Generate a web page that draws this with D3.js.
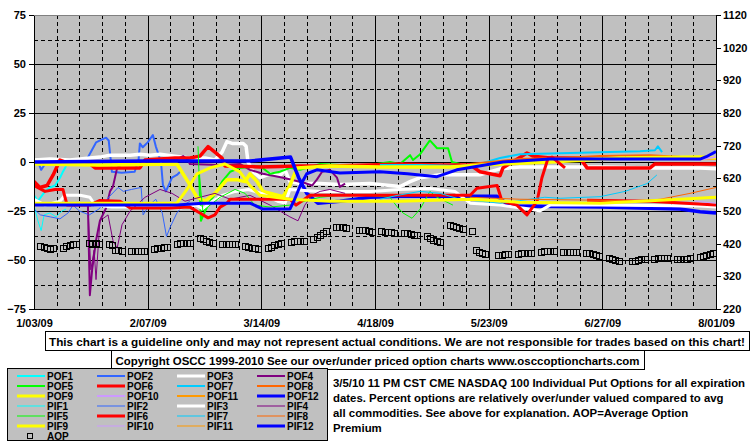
<!DOCTYPE html>
<html>
<head>
<meta charset="utf-8">
<script src="https://cdn.jsdelivr.net/npm/d3@7"></script>
<style>
  body { margin: 0; background: #fff; }
  text { font-family: Arial, "Liberation Sans", sans-serif; font-weight: bold; fill: #000; }
</style>
</head>
<body>
<svg id="chart" width="755" height="446"></svg>
<script>
// each series: [day offset from 1/03/09, percent over/under]; null = gap
const pof1 = [[0, -17], [1.2, -20], [3.4, -15], [4.9, -13], [6.5, -12], [8, -8], [8.9, -5], [9.9, -2]]
const pif1 = [[0, -22], [1.2, -30], [2.2, -35], [3.1, -27], [4.9, -26], [6.8, -28], [8.6, -25], [9.9, -24]]
const pof2 = [[0, 0], [1.5, -1], [2.2, -4], [3.4, -1], [6, 1], [12, 1], [16, 0.5], [19.1, 10], [21, 11.5], [22.2, 12.4],
  [23, 11], [23.7, 0], [24, -5], [27, -5.5], [31, -5], [32.2, 1], [32.6, 9.5], [33.5, 7.5], [35, 10], [36.6, 13.8],
  [37.5, 8], [39.1, 0], [39.7, -11.7], [40.6, -15], [42.5, -8], [44, -6.6], [45, -5]]
const pif2 = [[0, -24], [2, -27], [5, -28], [8, -29], [10.5, -26], [12, -22], [14, -25], [17, -27], [20, -24], [23, -18],
  [25.9, -13], [27.5, -15], [30, -14], [33, -13], [33.6, -27], [35.5, -22], [37.5, -19], [39.5, -26], [40.8, -38],
  [42, -33], [44, -26], [46, -22], [48, -20]]
const pof3 = [[0, 1], [4.9, 1.5], [11, 1], [20.3, 2.5], [23.4, 3.5], [29.6, 3.5], [32.6, 4], [35.7, 3.5], [38.8, 4],
  [43.4, 3], [48, 2], [52.7, 2], [55.7, 1], [57.9, 5], [59.4, 10.4], [61, 9.5], [64.4, 9.5], [65.3, 8], [65.9, 0],
  [67.5, -5], [69.6, -8], [72.7, -6], [75.7, -7], [77.3, -4], [78.8, -10], [81.9, -11], [88.1, -11], [94.2, -11.5],
  [103.5, -11], [109.6, -12], [112.7, -12.5], [115.8, -10], [118.9, -8], [125, -6.5], [137.3, -6.5], [143.5, -3.5],
  [149.6, -2.5], [174.3, -2.5], [189.7, -3], [205.1, -3], [210, -3.5]]
const pif3 = [[0, -19], [3.4, -22], [8, -20], [9.5, -17], [14.2, -17], [17.2, -18], [18.8, -22], [24, -23], [36, -23],
  [45, -23.5], [50, -22], [52, -24], [55, -20], [58, -17], [62, -15], [66, -14], [70, -16], [75, -20], [77.3, -21],
  [78.8, -14], [88, -15], [103.5, -15], [112.7, -14], [121.9, -13.5], [129.6, -15], [134.3, -21], [143.5, -22],
  [152.7, -24], [155.8, -25], [158.9, -22], [174.3, -22], [205.1, -22.5], [210, -23]]
const pof4 = [[16.6, -22], [17.2, -68], [17.9, -55], [19.1, -40], [20.3, -30], [22.2, -23.5], [23.4, -15], [24.3, -12.6],
  [25.6, -3], [28, 0], [35.7, 0.5], [43.4, 1], [45.9, 3], [47.4, 1], [48, -1], [57.3, -1.5], [63.4, -1], [66.5, -4],
  [70.5, -6], [76.7, -8], [83.4, -10.7], [85.6, -12], [87.1, -9], [88.7, -5], [91.1, -4], [93.3, -8], [94.2, -12.7], [95.8, -11]]
const pif4 = [[16.6, -22], [17.5, -55], [18.5, -45], [19.1, -60], [20.3, -30], [22.8, -27], [24.3, -40], [25.6, -44],
  [27.1, -32], [29.6, -25], [34.2, -18], [38.8, -14], [42.5, -16], [46.5, -20], [51.1, -18], [55.7, -16], [60.4, -19],
  [66.5, -17], [72.7, -22], [78.8, -28], [81.3, -30], [83.4, -22], [85.6, -17], [88.1, -15], [91.1, -14], [95.8, -16]]
const pof5 = [[50.8, -5], [51.4, -30], [52.7, -25], [54.2, -20], [56.3, -15], [57.9, -10], [60.4, -5], [63.4, -3],
  [69.6, -2], [72.7, -6], [75.7, -5], [78.8, -3], [81.9, -4], [88.1, -1], [94.2, -1.5], [103.5, -1.5], [109.6, 0],
  [112.7, -1], [115.8, 3.5], [116.7, 1], [118.9, 4], [121.9, 11], [124.1, 7], [127.5, 7], [128.7, 0], [131.2, -1]]
const pif5 = [[50.5, 8], [50.8, -5], [52, -25], [54.2, -22], [57.3, -18], [61.9, -14], [65, -16], [68, -22], [72.7, -23],
  [78.8, -22], [88.1, -18], [94.2, -17], [103.5, -17], [109.6, -18], [111.8, -22.8], [113.6, -26], [116.4, -28.7],
  [118.9, -24], [121.9, -15], [124.1, -18], [129, -22]]
const pof6 = [[0, -10], [1.8, -13], [4, -12], [5.9, -6.6], [8, 1], [11.1, -1], [17.2, -1], [18.8, -3], [24.9, -3],
  [32.6, -3], [34.2, 1], [43.4, 2], [48, 2], [51.1, 3], [53.6, 7.8], [55.7, 5], [57.9, 2], [58.8, -2], [69.6, -2.5],
  [81.9, -2], [91.1, -2], [103.5, -1.5], [112.7, -1], [125, -1.5], [134.3, -1.5], [137.3, -5], [143.5, -7], [144.4, -3],
  [151.8, 4.6], [153.7, 3], [158.9, 2], [168.1, 2], [170.3, -3], [189.7, -3], [191.2, -1], [210, -1]]
const pif6 = [[0, -12], [3.4, -15], [6.5, -14], [8.9, -14], [10.2, -22], [17.2, -22], [20.3, -19.6], [26.5, -20],
  [29.6, -23.5], [41.9, -23.5], [48, -23], [51.1, -26], [53.6, -28.5], [55.7, -27], [57.3, -23], [59.4, -21], [60.4, -19],
  [78.8, -19], [80.7, -22], [85, -17], [106.5, -17], [134.3, -17], [136.4, -13.4], [142.6, -12], [144.1, -20],
  [148.7, -22], [151.8, -27], [154.9, -20], [156.4, -8], [158.3, 2], [159.5, 2.5], [163.5, -3], [167, null],
  [170.3, -19.5], [189.7, -20], [210, -22]]
const pof7 = [[106.5, -1.5], [118.9, -1.5], [131.2, -2], [137.3, -1], [143.5, 2], [149.6, 4], [162, 4.5], [174.3, 5],
  [186.6, 5.5], [191.2, 6], [192.1, 8], [193.4, 5]]
const pif7 = [[106.5, -19], [112, -17], [118.9, -15], [125, -16], [131.2, -19], [137.3, -20], [143.5, -21], [157.3, -18],
  [162, -18.5], [174.3, -17.7], [182, -15], [188.8, -11], [191.8, -6.6]]
const pof8 = [[134.3, -1], [149.6, 1.5], [162, 2], [174.3, 3], [189.7, 3.5], [205.1, 2], [210, 1.5]]
const pif8 = [[134.3, -18], [149.6, -19], [174.3, -19.5], [186.6, -20], [192.8, -19], [202, -16], [210, -13]]
const pof9 = [[0, -1], [20, -1.5], [44, -1], [47.4, -10], [50.2, -18], [52.7, -20], [55.7, -16], [59.4, -9], [62.5, -9],
  [65, -10], [66.5, -6], [68.7, -10], [70.5, -15], [76.7, -17.7], [78.8, -12], [81, -3], [91.1, -2], [106.5, -2.5],
  [128.1, -2.5], [143.5, -1], [158.9, 0], [180.4, 2], [205.1, 2.5], [210, 2]]
const pif9 = [[0, -21], [44, -21], [47.1, -14], [50.2, -6], [54.2, -3], [58.8, -1], [63.4, -5], [66.5, -12], [69.6, -17],
  [78.8, -19], [91.1, -20], [112.7, -20], [134.3, -19], [149.6, -20.5], [174.3, -21], [198.9, -19], [210, -18]]
const pof10 = [[203.5, 1], [210, 2.5]]
const pif10 = [[203.5, -20], [210, -21]]
const pof11 = []
const pif11 = []
const pof12 = [[0, 0], [35.7, 0.5], [66.5, 0.5], [79, 2.5], [81.5, -8], [84, -16], [87.4, -21], [94.2, -20],
  [103.5, -18], [112.7, -17.5], [142.6, -17.5], [146.6, -22.5], [174.3, -23], [198.9, -24], [205.1, -25.4], [210, -26]]
const pif12 = [[0, -22], [44, -22], [52, -21], [66.5, -21], [70.5, -24], [78.8, -24], [80, -20], [82, -12],
  [84, -6], [87.1, -4], [94.2, -5.6], [106.5, -5], [115, -6], [124.1, -7.5], [130.2, -4], [144.4, 0], [158.9, 1.5],
  [205.1, 1.5], [207, 2.7], [210, 5.3]]

// average option premium, one row per trading week (Mon..Fri), right axis
const aopWeeks = [
  [412, 409, 406, 405, 406], [408, 414, 417, 418, 418], [null, 421, 420, 421, 419], [418, 416, 402, 400, 399],
  [398, 397, 397, 398, 399], [404, 406, 408, 409, 410], [419, 421, 422, 422, 421], [437, 434, 429, 424, 422],
  [420, 419, 419, 418, 418], [412, 410, 408, 406, 405], [408, 411, 415, 419, 421], [426, 427, 427, 427, 427],
  [435, 441, 448, 454, 460], [470, 471, 470, 468, null], [463, 463, 461, 458, 456], [458, 457, 456, 455, 453],
  [453, 452, 451, 448, 446], [443, 438, 432, 429, 424], [476, 474, 471, 468, 466], [460, 402, 396, 391, 388],
  [null, 384, 386, 387, 388], [389, 390, 391, 392, 392], [396, 398, 399, 398, 397], [396, 395, 394, 395, 394],
  [392, 391, 387, 384, 383], [377, 373, 370, 368, null], [367, 368, 370, 372, 373], [374, 375, 376, 376, 375],
  [372, 372, 373, 374, 375], [379, 382, 386, 389, 391]
]

const leftTicks = [75, 50, 25, 0, -25, -50, -75]
const rightTicks = [1120, 1020, 920, 820, 720, 620, 520, 420, 320, 220]
const dateLabels = ['1/03/09', '2/07/09', '3/14/09', '4/18/09', '5/23/09', '6/27/09', '8/01/09']

const seriesNames = ['POF1', 'POF2', 'POF3', 'POF4', 'POF5', 'POF6', 'POF7', 'POF8', 'POF9', 'POF10', 'POF11', 'POF12',
  'PIF1', 'PIF2', 'PIF3', 'PIF4', 'PIF5', 'PIF6', 'PIF7', 'PIF8', 'PIF9', 'PIF10', 'PIF11', 'PIF12']
const seriesData = [pof1, pof2, pof3, pof4, pof5, pof6, pof7, pof8, pof9, pof10, pof11, pof12,
  pif1, pif2, pif3, pif4, pif5, pif6, pif7, pif8, pif9, pif10, pif11, pif12]
const monthColors = ['#00ffff', '#3366ff', '#ffffff', '#800080', '#00ff00', '#ff0000',
  '#00ccff', '#ff6600', '#ffff00', '#cc99ff', '#ff9900', '#0000ff']

const notes = [
  '3/5/10 11 PM CST CME NASDAQ 100 Individual Put Options for all expiration',
  'dates. Percent options are relatively over/under valued compared to avg',
  'all commodities. See above for explanation. AOP=Average Option',
  'Premium'
]

const conf = {
  left: 34,
  right: 716,
  top: 15,
  bottom: 309,
  plotFill: '#c0c0c0'
}

const parseDate = d3.utcParse('%-m/%d/%y')
const start = parseDate(dateLabels[0])
const end = parseDate(dateLabels[dateLabels.length - 1])
const toDate = d => new Date(start.getTime() + d * 864e5)

const x = d3.scaleUtc().domain([start, end]).range([conf.left, conf.right])
const yL = d3.scaleLinear().domain([-75, 75]).range([conf.bottom, conf.top])
const yR = d3.scaleLinear().domain([220, 1120]).range([conf.bottom, conf.top])

const svg = d3.select('#chart')
svg.append('rect').attr('width', 755).attr('height', 446).attr('fill', '#fff')

svg.append('defs').append('clipPath').attr('id', 'plot-clip')
  .append('rect')
  .attr('x', conf.left).attr('y', conf.top)
  .attr('width', conf.right - conf.left).attr('height', conf.bottom - conf.top)

svg.append('rect')
  .attr('x', conf.left).attr('y', conf.top)
  .attr('width', conf.right - conf.left).attr('height', conf.bottom - conf.top)
  .attr('fill', conf.plotFill)

// grid
const grid = svg.append('g').attr('shape-rendering', 'crispEdges')
d3.range(-62.5, 75, 12.5).forEach(v => {
  grid.append('line')
    .attr('x1', conf.left).attr('x2', conf.right)
    .attr('y1', Math.round(yL(v)) + 0.5).attr('y2', Math.round(yL(v)) + 0.5)
    .attr('stroke', '#000')
    .attr('stroke-dasharray', v % 25 === 0 ? null : '4,3')
})
const labelDates = dateLabels.map(parseDate)
d3.utcSaturday.range(start, end).slice(1).forEach((d, i) => {
  const solid = (i + 1) % 5 === 0
  grid.append('line')
    .attr('x1', Math.round(x(d)) + 0.5).attr('x2', Math.round(x(d)) + 0.5)
    .attr('y1', conf.top).attr('y2', conf.bottom)
    .attr('stroke', '#000')
    .attr('stroke-dasharray', solid ? null : '4,3')
})
grid.append('line')
  .attr('x1', conf.left).attr('x2', conf.right)
  .attr('y1', conf.top + 0.5).attr('y2', conf.top + 0.5)
  .attr('stroke', '#808080')

// series
const line = d3.line()
  .defined(d => d[1] !== null)
  .x(d => x(toDate(d[0])))
  .y(d => yL(d[1]))

const widthOf = i => {
  const quarterly = [2, 5, 8, 11].includes(i % 12)
  if (i < 12) return quarterly ? 3.5 : 2
  return quarterly ? 3 : 1
}

const marks = svg.append('g').attr('clip-path', 'url(#plot-clip)')
seriesData.forEach((data, i) => {
  if (!data.length) return
  marks.append('path')
    .datum(data)
    .attr('d', line)
    .attr('fill', 'none')
    .attr('stroke', monthColors[i % 12])
    .attr('stroke-width', widthOf(i))
    .attr('stroke-linejoin', 'round')
})

const aop = []
aopWeeks.forEach((week, k) => {
  week.forEach((v, j) => {
    if (v !== null) aop.push({ date: toDate(2 + 7 * k + j), value: v })
  })
})
marks.append('g')
  .attr('shape-rendering', 'crispEdges')
  .selectAll('rect')
  .data(aop)
  .join('rect')
  .attr('x', d => Math.round(x(d.date)) - 2.5)
  .attr('y', d => Math.round(yR(d.value)) - 2.5)
  .attr('width', 6)
  .attr('height', 6)
  .attr('fill', 'none')
  .attr('stroke', '#000')

// axes
const leftAxis = svg.append('g')
  .attr('transform', `translate(${conf.left},0)`)
  .call(d3.axisLeft(yL).tickValues(leftTicks).tickSize(5).tickSizeOuter(0).tickPadding(3))
const rightAxis = svg.append('g')
  .attr('transform', `translate(${conf.right},0)`)
  .call(d3.axisRight(yR).tickValues(rightTicks).tickSize(5).tickSizeOuter(0).tickPadding(2)
    .tickFormat(d3.format('d')))
const bottomAxis = svg.append('g')
  .attr('transform', `translate(0,${conf.bottom})`)
  .call(d3.axisBottom(x).tickValues(labelDates).tickSize(0).tickSizeOuter(0).tickPadding(10)
    .tickFormat((d, i) => dateLabels[i]))
;[leftAxis, rightAxis, bottomAxis].forEach(a => {
  a.selectAll('text').attr('font-size', 11).attr('font-family', null)
  a.attr('font-family', null)
  a.selectAll('path, line').attr('stroke', '#000').attr('shape-rendering', 'crispEdges')
})

// disclaimer boxes
function textBox (bx, by, bw, bh, label, textWidth) {
  svg.append('rect')
    .attr('x', bx + 0.5).attr('y', by + 0.5).attr('width', bw).attr('height', bh)
    .attr('fill', '#fff').attr('stroke', '#000').attr('shape-rendering', 'crispEdges')
  svg.append('text')
    .attr('x', bx + bw / 2).attr('y', by + bh / 2 + 5)
    .attr('text-anchor', 'middle')
    .attr('font-size', 11.5)
    .attr('textLength', textWidth)
    .attr('lengthAdjust', 'spacingAndGlyphs')
    .text(label)
}
textBox(45, 331, 704, 19, 'This chart is a guideline only and may not represent actual conditions. We are not responsible for trades based on this chart!', 696)
textBox(111, 350, 533, 19, 'Copyright OSCC 1999-2010 See our over/under priced option charts www.osccoptioncharts.com', 524)

// legend
const legend = svg.append('g')
legend.append('rect')
  .attr('x', 7.5).attr('y', 368.5).attr('width', 320).attr('height', 72)
  .attr('fill', conf.plotFill).attr('stroke', '#000').attr('shape-rendering', 'crispEdges')
seriesNames.forEach((name, i) => {
  const row = Math.floor(i / 4)
  const col = i % 4
  const ly = 376 + row * 10
  const lx = 17 + col * 80
  legend.append('line')
    .attr('x1', lx).attr('x2', lx + 28).attr('y1', ly).attr('y2', ly)
    .attr('stroke', monthColors[i % 12])
    .attr('stroke-width', Math.min(widthOf(i), 3))
  legend.append('text')
    .attr('x', lx + 30).attr('y', ly + 4)
    .attr('font-size', 10)
    .text(name)
})
legend.append('rect')
  .attr('x', 27.5).attr('y', 433.5).attr('width', 5).attr('height', 5)
  .attr('fill', 'none').attr('stroke', '#000').attr('shape-rendering', 'crispEdges')
legend.append('text').attr('x', 47).attr('y', 440).attr('font-size', 10).text('AOP')

// notes
svg.append('g').selectAll('text')
  .data(notes)
  .join('text')
  .attr('x', 333)
  .attr('y', (d, i) => 387 + i * 15)
  .attr('font-size', 11.4)
  .text(d => d)
</script>
</body>
</html>
